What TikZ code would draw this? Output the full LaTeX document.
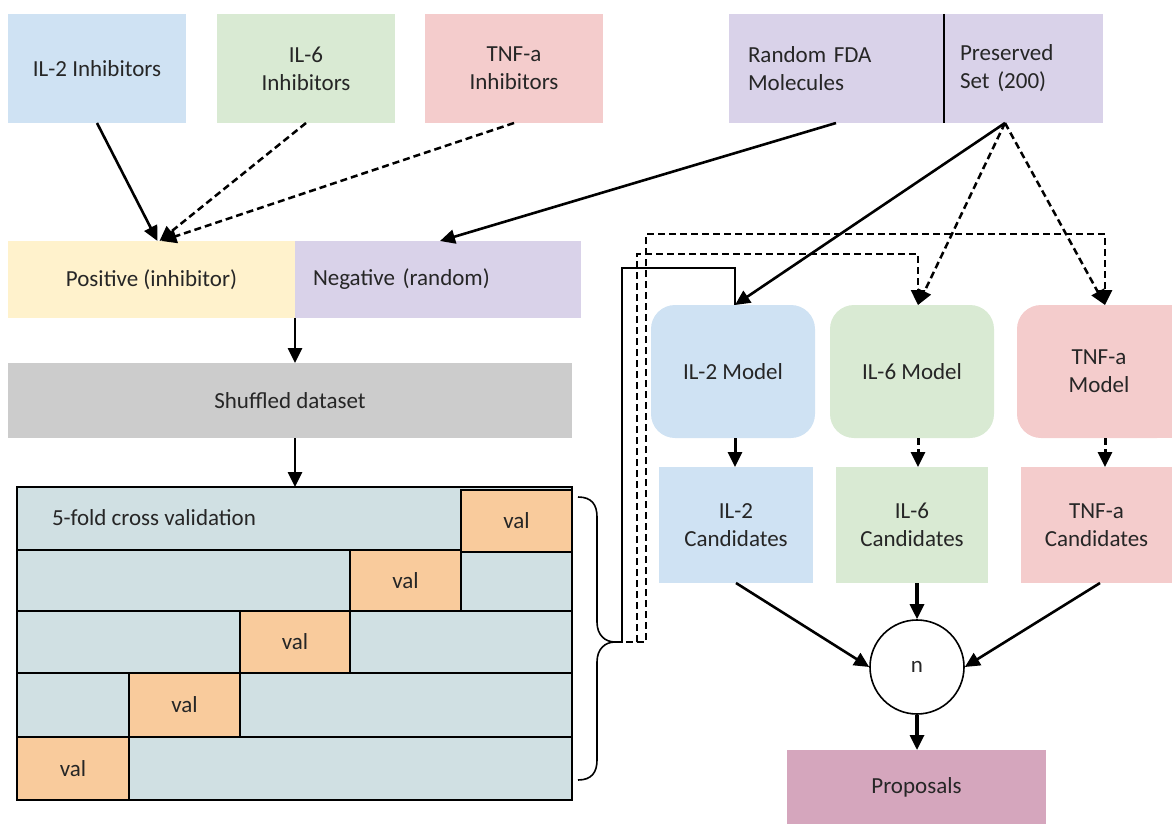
\documentclass[tikz,border=0pt]{standalone}
\usepackage{fontspec}
\setmainfont{Carlito}
\usetikzlibrary{arrows.meta}
\definecolor{cblue}{HTML}{CFE2F3}
\definecolor{cgreen}{HTML}{D9EAD3}
\definecolor{cpink}{HTML}{F4CCCC}
\definecolor{clav}{HTML}{D9D2E9}
\definecolor{cyel}{HTML}{FFF2CC}
\definecolor{cgray}{HTML}{CCCCCC}
\definecolor{cbg}{HTML}{D0E0E3}
\definecolor{cval}{HTML}{F9CB9C}
\definecolor{cprop}{HTML}{D5A6BD}
\definecolor{txt}{HTML}{262626}
\begin{document}
\begin{tikzpicture}[x=1pt,y=-1pt,
  font=\fontsize{23}{28}\selectfont,
  box/.style={inner sep=0pt, align=center, text=txt, anchor=north west, outer sep=0pt},
  arr/.style={line width=2.6pt, -{Triangle[length=15pt,width=14pt]}},
  dsh/.style={line width=2.5pt, dash pattern=on 7pt off 4pt, -{Triangle[length=15pt,width=14pt]}},
  row/.style={fill=cbg, draw=black, line width=1.8pt},
  valbox/.style={box, fill=cval, draw=black, line width=1.8pt, minimum height=62pt}]
\useasboundingbox (0,0) rectangle (1172,824);
% top boxes
\node[box, fill=cblue, minimum width=178pt, minimum height=109pt] (il2i) at (8,14) {IL-2 Inhibitors};
\node[box, fill=cgreen, minimum width=178pt, minimum height=109pt] (il6i) at (217,14) {IL-6\\Inhibitors};
\node[box, fill=cpink, minimum width=178pt, minimum height=109pt] (tnfi) at (425,14) {TNF-a\\Inhibitors};
\node[box, fill=clav, minimum width=215pt, minimum height=109pt, text width=177pt, align=left] (rfda) at (729,14) {Random FDA\\Molecules};
\node[box, fill=clav, minimum width=159pt, minimum height=109pt, text width=127pt, align=left] (pres) at (944,14) {Preserved\\Set (200)};
\draw[line width=1.8pt] (pres.north west) -- (pres.south west);
\coordinate (pp) at (1005,123);
% positive / negative
\node[box, fill=cyel, minimum width=287pt, minimum height=77pt] (pos) at (8,241) {Positive (inhibitor)};
\node[box, fill=clav, minimum width=286pt, minimum height=77pt, text width=250pt, align=left] (neg) at (295,241) {Negative (random)};
\node[box, fill=cgray, minimum width=564pt, minimum height=75pt] (shuf) at (8,363) {Shuffled dataset};
% CV rows
\draw[row] (17,487) rectangle (572,550);
\draw[row] (17,550) rectangle (572,611);
\draw[row] (17,611) rectangle (572,673);
\draw[row] (17,673) rectangle (572,737);
\draw[row] (17,737) rectangle (572,800);
\coordinate (cvtop) at (295,487);
\node[box, text=txt, anchor=west] (cvlbl) at (52,518) {5-fold cross validation};
\node[valbox, minimum width=111pt] (v1) at (461,490) {val};
\node[valbox, minimum width=111pt, minimum height=61pt] (v2) at (350,550) {val};
\node[valbox, minimum width=110pt] (v3) at (240,611) {val};
\node[valbox, minimum width=111pt, minimum height=64pt] (v4) at (129,673) {val};
\node[valbox, minimum width=112pt, minimum height=63pt] (v5) at (17,737) {val};
% brace
\draw[line width=1.6pt] (578,497) .. controls (592,497) and (597,505) .. (597,517)
  -- (597,622) .. controls (597,635) and (605,642) .. (615,642)
  .. controls (605,642) and (597,649) .. (597,662)
  -- (597,760) .. controls (597,772) and (592,780) .. (578,780);
\coordinate (bt) at (615,642);
% models
\node[box, fill=cblue, rounded corners=24pt, minimum width=164pt, minimum height=133pt] (il2m) at (651,305) {IL-2 Model};
\node[box, fill=cgreen, rounded corners=24pt, minimum width=164pt, minimum height=133pt] (il6m) at (830,305) {IL-6 Model};
\fill[cpink] (1150,305) rectangle (1172,438);
\node[box, fill=cpink, rounded corners=24pt, minimum width=164pt, minimum height=133pt] (tnfm) at (1017,305) {TNF-a\\Model};
% candidates
\node[box, fill=cblue, minimum width=154pt, minimum height=116pt] (il2c) at (659,467) {IL-2\\Candidates};
\node[box, fill=cgreen, minimum width=152pt, minimum height=116pt] (il6c) at (836,467) {IL-6\\Candidates};
\node[box, fill=cpink, minimum width=151pt, minimum height=116pt] (tnfc) at (1021,467) {TNF-a\\Candidates};
% n and proposals
\node[circle, draw=black, line width=1.6pt, minimum size=94pt, inner sep=0pt, text=txt] (n) at (917,667) {n};
\node[box, fill=cprop, minimum width=259pt, minimum height=74pt] (prop) at (787,750) {Proposals};
% arrows top
\draw[arr] (97,123) -- ([xshift=6pt]pos.north);
\draw[dsh] (306,123) -- ([xshift=8pt]pos.north);
\draw[dsh] (514,123) -- ([xshift=10pt]pos.north);
\draw[arr] (836,123) -- ([xshift=2pt]neg.north);
\draw[arr] (pp) -- ([xshift=2pt]il2m.north);
\draw[dsh] (pp) -- ([xshift=6pt]il6m.north);
\draw[dsh] (pp) -- ([xshift=6pt]tnfm.north);
\draw[arr] (295,318) -- (shuf.north -| 295,0);
\draw[arr] (295,438) -- (cvtop);
% brace connectors
\draw[line width=1.6pt] (bt) -- (622,642) -- (622,268) -| ([xshift=2pt]il2m.north);
\draw[dsh] (bt) -- (637,642) -- (637,254) -| ([xshift=6pt]il6m.north);
\draw[dsh] (bt) -- (646,642) -- (646,234) -| ([xshift=6pt]tnfm.north);
% model -> candidates
\draw[arr, line width=3pt] ([xshift=2pt]il2m.south) -- ([xshift=2pt]il2m.south |- il2c.north);
\draw[dsh, line width=3pt] ([xshift=6pt]il6m.south) -- ([xshift=6pt]il6m.south |- il6c.north);
\draw[dsh, line width=3pt] ([xshift=6pt]tnfm.south) -- ([xshift=6pt]tnfm.south |- tnfc.north);
% candidates -> n
\draw[arr] (il2c.south) -- (n.west);
\draw[arr, line width=3.2pt] (il6c.south -| n.north) -- (n.north);
\draw[arr] (tnfc.south -| 1100,0) -- (n.east);
\draw[arr, line width=3.2pt] (n.south) -- (n.south |- prop.north);
\end{tikzpicture}
\end{document}
